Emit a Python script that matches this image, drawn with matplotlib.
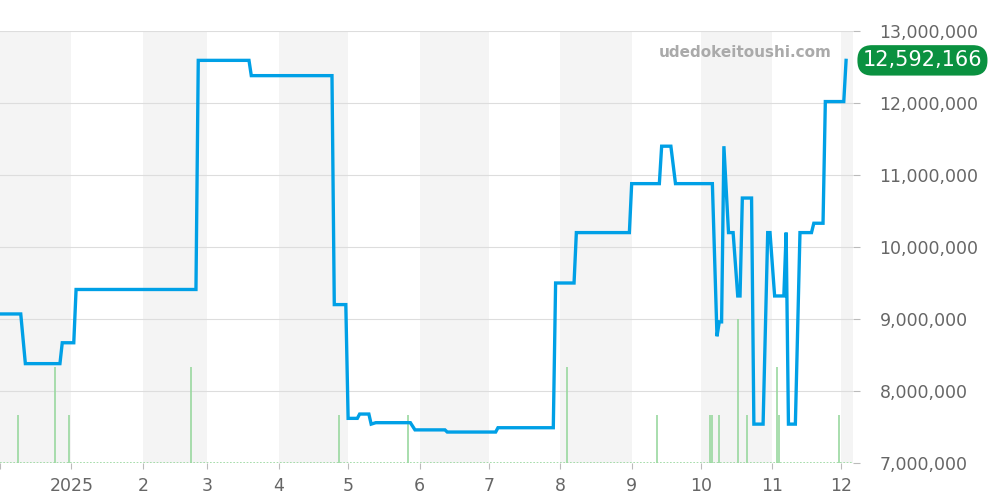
import numpy as np
import matplotlib
matplotlib.use('Agg')
import matplotlib.pyplot as plt
from matplotlib.ticker import FuncFormatter

# price line (date, yen)
price_dates = np.array([
    '2024-12-01', '2024-12-10', '2024-12-12', '2024-12-27', '2024-12-28', '2025-01-02',
    '2025-01-03', '2025-02-24', '2025-02-25', '2025-03-19', '2025-03-20', '2025-04-24',
    '2025-04-25', '2025-04-30', '2025-05-01', '2025-05-05', '2025-05-06', '2025-05-10',
    '2025-05-11', '2025-05-13', '2025-05-28', '2025-05-30', '2025-06-12', '2025-06-13',
    '2025-07-04', '2025-07-05', '2025-07-29', '2025-07-30', '2025-08-07', '2025-08-08',
    '2025-08-31', '2025-09-01', '2025-09-13', '2025-09-14', '2025-09-18', '2025-09-20',
    '2025-10-06', '2025-10-08', '2025-10-09', '2025-10-10', '2025-10-11', '2025-10-13',
    '2025-10-15', '2025-10-17', '2025-10-18', '2025-10-19', '2025-10-23', '2025-10-24',
    '2025-10-28', '2025-10-30', '2025-10-31', '2025-11-02', '2025-11-06', '2025-11-07',
    '2025-11-08', '2025-11-11', '2025-11-13', '2025-11-18', '2025-11-19', '2025-11-23',
    '2025-11-24', '2025-12-02', '2025-12-03'], dtype='datetime64[D]')
price_vals = np.array([
    9070000, 9070000, 8380000, 8380000, 8670000, 8670000,
    9410000, 9410000, 12592166, 12592166, 12380000, 12380000,
    9200000, 9200000, 7620000, 7620000, 7680000, 7680000,
    7540000, 7560000, 7560000, 7460000, 7460000, 7430000,
    7430000, 7490000, 7490000, 9500000, 9500000, 10200000,
    10200000, 10880000, 10880000, 11400000, 11400000, 10880000,
    10880000, 8760000, 8960000, 8960000, 11400000, 10200000,
    10200000, 9320000, 9320000, 10680000, 10680000, 7540000,
    7540000, 10200000, 10200000, 9320000, 9320000, 10200000,
    7540000, 7540000, 10200000, 10200000, 10330000, 10330000,
    12020000, 12020000, 12592166])

# listings volume
vol_dates = np.array([
    '2024-12-09', '2024-12-25', '2024-12-31', '2025-02-22', '2025-04-27', '2025-05-27',
    '2025-08-04', '2025-09-12', '2025-10-05', '2025-10-06', '2025-10-09', '2025-10-17',
    '2025-10-21', '2025-11-03', '2025-11-04', '2025-11-30'], dtype='datetime64[D]')
vol_vals = [1, 2, 1, 2, 1, 1, 2, 1, 1, 1, 1, 3, 1, 2, 1, 1]

month_starts = np.arange(np.datetime64('2024-12'), np.datetime64('2026-01'),
                         np.timedelta64(1, 'M')).astype('datetime64[D]')
month_labels = ['', '2025', '2', '3', '4', '5', '6', '7', '8', '9', '10', '11', '12']

x_start = np.datetime64('2024-12-01')
x_end = np.datetime64('2025-12-06')
last_price = 12592166

grey = '#666666'
fig = plt.figure(figsize=(10, 5), dpi=100)
ax = fig.add_axes([0, 0.074, 0.853, 0.864])

# volume on its own scale
ax2 = ax.twinx()
ax2.vlines(vol_dates, 0, vol_vals, color='#99d89f', lw=1.2, zorder=2)
ax2.axhline(0, color='#99d89f', lw=1.2, ls=(0, (1, 1)))
ax2.set_ylim(0, 9)
ax2.set_xlim(x_start, x_end)
ax2.axis('off')

ax3 = ax.twinx()
ax3.plot(price_dates, price_vals, color='#00a0e6', lw=2.4, solid_joinstyle='miter', zorder=5)
ax3.set_ylim(7000000, 13000000)
ax3.set_xlim(x_start, x_end)
ax3.axis('off')

# alternating month shading
for i in range(0, len(month_starts), 2):
    s = month_starts[i]
    e = month_starts[i + 1] if i + 1 < len(month_starts) else x_end
    ax.axvspan(s, e, color='#f4f4f4', lw=0, zorder=0)

ax.set_xlim(x_start, x_end)
ax.set_ylim(7000000, 13000000)
ax.yaxis.tick_right()
ax.set_yticks(np.arange(7000000, 13000001, 1000000))
ax.yaxis.set_major_formatter(FuncFormatter(lambda v, p: f'{int(v):,}'))
ax.grid(axis='y', color='#dddddd', lw=0.8, zorder=1)
ax.set_xticks(month_starts)
ax.set_xticklabels(month_labels)
ax.tick_params(axis='y', colors='#bbbbbb', labelcolor=grey, labelsize=12.5, length=5, pad=14)
ax.tick_params(axis='x', colors='#bbbbbb', labelcolor=grey, labelsize=12.5, length=4, pad=6)
for sp in ax.spines.values():
    sp.set_visible(False)

fig.text(0.745, 0.895, 'udedokeitoushi.com', color='#aaaaaa', fontsize=11,
         fontweight='bold', ha='center', va='center')

ax3.annotate(f'{last_price:,}', xy=(1.0, last_price), xycoords=('axes fraction', 'data'),
             xytext=(50, 0), textcoords='offset points', ha='center', va='center',
             color='white', fontsize=15,
             bbox=dict(boxstyle='round,pad=0.25,rounding_size=0.7', fc='#0a9140', ec='none'),
             annotation_clip=False)

fig.savefig('out.png', dpi=100)
